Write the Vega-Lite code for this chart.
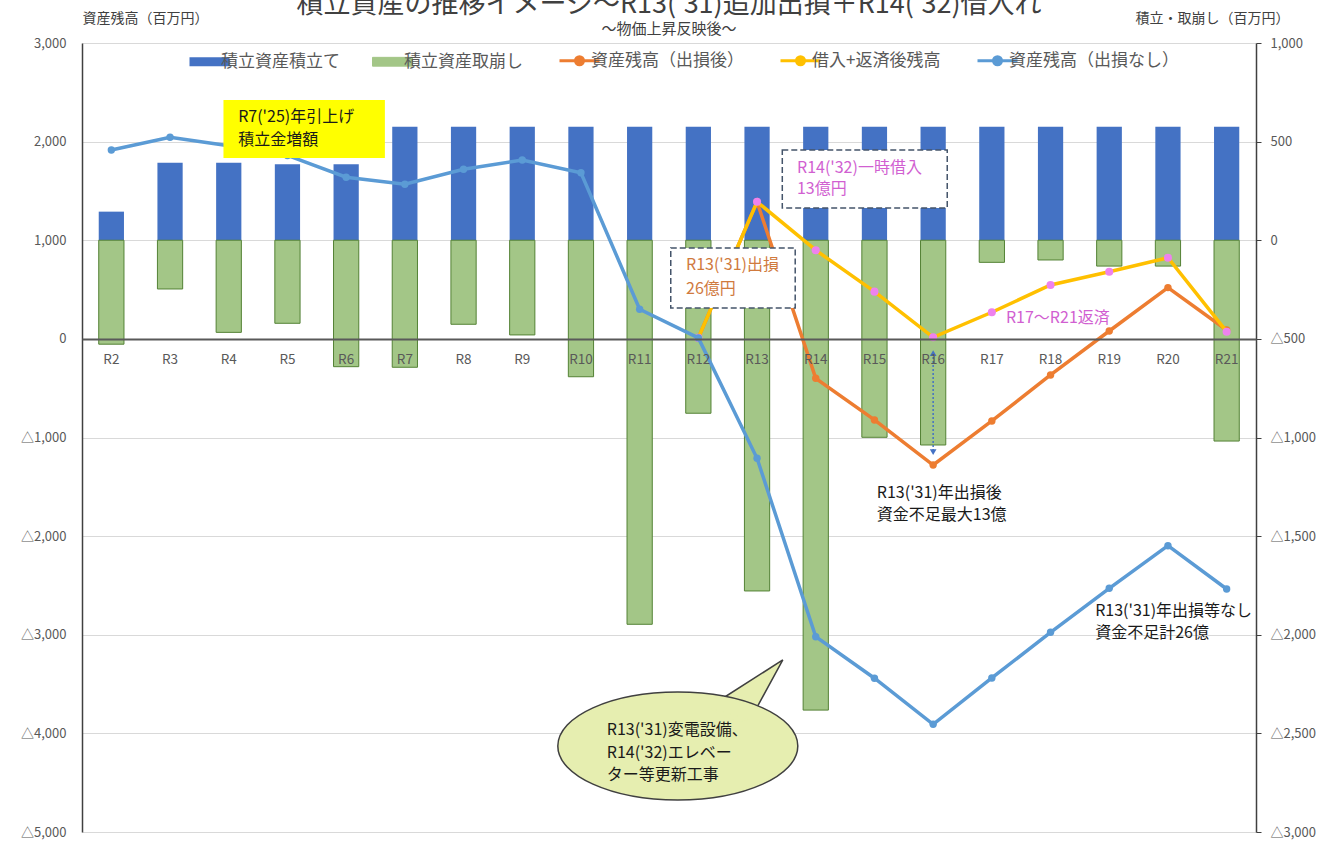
{
  "$schema": "https://vega.github.io/schema/vega-lite/v6.json",
  "width": 1174,
  "height": 789,
  "autosize": {"type": "none"},
  "padding": {"left": 82, "top": 43, "right": 79, "bottom": 9},
  "background": "white",
  "config": {
    "font": "Noto Sans CJK JP",
    "view": {"stroke": null}
  },
  "title": {
    "text": "積立資産の推移イメージ～R13('31)追加出損＋R14('32)借入れ",
    "subtitle": "～物価上昇反映後～",
    "fontSize": 27,
    "fontWeight": "normal",
    "color": "#404040",
    "subtitleFontSize": 15,
    "subtitleColor": "#404040",
    "subtitlePadding": 3,
    "anchor": "middle",
    "offset": 6,
    "dy": 33
  },
  "datasets": {
    "main": [
      {"year": "R2", "tsumi": 145, "tori": -527, "nashi": 1915, "go": null, "kari": null},
      {"year": "R3", "tsumi": 393, "tori": -247, "nashi": 2044, "go": null, "kari": null},
      {"year": "R4", "tsumi": 393, "tori": -467, "nashi": 1959, "go": null, "kari": null},
      {"year": "R5", "tsumi": 385, "tori": -421, "nashi": 1860, "go": null, "kari": null},
      {"year": "R6", "tsumi": 385, "tori": -641, "nashi": 1639, "go": null, "kari": null},
      {"year": "R7", "tsumi": 576, "tori": -644, "nashi": 1568, "go": null, "kari": null},
      {"year": "R8", "tsumi": 576, "tori": -426, "nashi": 1720, "go": null, "kari": null},
      {"year": "R9", "tsumi": 576, "tori": -480, "nashi": 1814, "go": null, "kari": null},
      {"year": "R10", "tsumi": 576, "tori": -692, "nashi": 1685, "go": null, "kari": null},
      {"year": "R11", "tsumi": 576, "tori": -1947, "nashi": 300, "go": null, "kari": null},
      {"year": "R12", "tsumi": 576, "tori": -877, "nashi": 10, "go": 10, "kari": 10},
      {"year": "R13", "tsumi": 576, "tori": -1778, "nashi": -1211, "go": 1390, "kari": 1390},
      {"year": "R14", "tsumi": 576, "tori": -2382, "nashi": -3020, "go": -400, "kari": 899},
      {"year": "R15", "tsumi": 576, "tori": -999, "nashi": -3441, "go": -822, "kari": 479},
      {"year": "R16", "tsumi": 576, "tori": -1038, "nashi": -3908, "go": -1279, "kari": 16},
      {"year": "R17", "tsumi": 576, "tori": -112, "nashi": -3438, "go": -832, "kari": 270},
      {"year": "R18", "tsumi": 576, "tori": -100, "nashi": -2975, "go": -366, "kari": 547},
      {"year": "R19", "tsumi": 576, "tori": -131, "nashi": -2529, "go": 80, "kari": 681},
      {"year": "R20", "tsumi": 576, "tori": -131, "nashi": -2097, "go": 520, "kari": 823},
      {"year": "R21", "tsumi": 576, "tori": -1018, "nashi": -2536, "go": 90, "kari": 73}
    ],
    "yellowBox": [{"x1": 2.41, "x2": 5.16, "y1": 2422, "y2": 1834}],
    "dashBoxes": [
      {"x1": 10.03, "x2": 12.15, "y1": 922, "y2": 313},
      {"x1": 11.93, "x2": 14.74, "y1": 1915, "y2": 1327}
    ],
    "bubble": [{"bx": 10.15, "by": -4128}],
    "blackText": [
      {"tx": 2.66, "ty": 2250, "text": "R7('25)年引上げ"},
      {"tx": 2.66, "ty": 2017, "text": "積立金増額"},
      {"tx": 13.54, "ty": -1562, "text": "R13('31)年出損後"},
      {"tx": 13.54, "ty": -1785, "text": "資金不足最大13億"},
      {"tx": 17.26, "ty": -2759, "text": "R13('31)年出損等なし"},
      {"tx": 17.26, "ty": -2982, "text": "資金不足計26億"},
      {"tx": 8.94, "ty": -3965, "text": "R13('31)変電設備、"},
      {"tx": 8.94, "ty": -4198, "text": "R14('32)エレベー"},
      {"tx": 8.94, "ty": -4421, "text": "ター等更新工事"}
    ],
    "orangeText": [
      {"tx": 10.29, "ty": 750, "text": "R13('31)出損"},
      {"tx": 10.29, "ty": 507, "text": "26億円"}
    ],
    "violetText": [
      {"tx": 12.18, "ty": 1736, "text": "R14('32)一時借入"},
      {"tx": 12.18, "ty": 1520, "text": "13億円"},
      {"tx": 15.74, "ty": 212, "text": "R17～R21返済"}
    ],
    "arrow": [{"ax": 14.5, "top": -144, "bottom": -1148}]
  },
  "layer": [
    {
      "data": {"name": "main"},
      "encoding": {
        "x": {
          "field": "year",
          "type": "ordinal",
          "scale": {
            "domain": ["R2","R3","R4","R5","R6","R7","R8","R9","R10","R11","R12","R13","R14","R15","R16","R17","R18","R19","R20","R21"],
            "paddingInner": 0.57,
            "paddingOuter": 0.285
          },
          "axis": {
            "orient": "bottom",
            "offset": -493,
            "title": null,
            "ticks": false,
            "grid": false,
            "domainColor": "#595959",
            "domainWidth": 2,
            "labelColor": "#595959",
            "labelFontSize": 13.5,
            "labelPadding": 13,
            "labelAngle": 0,
            "zindex": 1
          }
        }
      },
      "layer": [
        {
          "mark": {"type": "bar"},
          "encoding": {
            "y": {
              "field": "tsumi",
              "type": "quantitative",
              "scale": {"domain": [-3000, 1000], "nice": false},
              "axis": {
                "orient": "right",
                "values": [-3000, -2500, -2000, -1500, -1000, -500, 0, 500, 1000],
                "labelExpr": "datum.value < 0 ? '△' + format(-datum.value, ',') : format(datum.value, ',')",
                "grid": false,
                "domain": true,
                "domainColor": "#404040",
                "domainWidth": 1.5,
                "ticks": true,
                "tickColor": "#404040",
                "tickSize": 5,
                "labelColor": "#595959",
                "labelFontSize": 13,
                "labelPadding": 9,
                "title": "積立・取崩し（百万円）",
                "titleAngle": 0,
                "titleX": -44,
                "titleY": -25,
                "titleAlign": "center",
                "titleBaseline": "middle",
                "titleFontSize": 14,
                "titleFontWeight": "normal",
                "titleColor": "#404040"
              }
            },
            "color": {
              "datum": "積立資産積立て",
              "type": "nominal",
              "scale": {
                "domain": ["積立資産積立て", "積立資産取崩し", "資産残高（出損後）", "借入+返済後残高", "資産残高（出損なし）"],
                "range": ["#4472c4", "#a3c687", "#ed7d31", "#ffc000", "#5b9bd5"]
              },
              "legend": {
                "orient": "none",
                "legendX": 119,
                "legendY": 9,
                "direction": "horizontal",
                "title": null,
                "padding": 0,
                "symbolSize": 1600,
                "symbolType": "M-1,-0.22L1,-0.22L1,0.22L-1,0.22Z",
                "labelFontSize": 17,
                "labelLimit": 400,
                "labelColor": "#595959",
                "labelOffset": 3,
                "columnPadding": 30,
                "encode": {
                  "symbols": {
                    "update": {
                      "shape": {"signal": "indexof(['積立資産積立て','積立資産取崩し'], datum.value) >= 0 ? 'M-1,-0.22L1,-0.22L1,0.22L-1,0.22Z' : 'M-1,0L1,0M0.2,0C0.2,0.1105,0.1105,0.2,0,0.2C-0.1105,0.2,-0.2,0.1105,-0.2,0C-0.2,-0.1105,-0.1105,-0.2,0,-0.2C0.1105,-0.2,0.2,-0.1105,0.2,0Z'"},
                      "fill": {"signal": "datum.value == '借入+返済後残高' ? '#ee82ee' : scale('color', datum.value)"},
                      "stroke": {"signal": "datum.value == '積立資産取崩し' ? '#548235' : scale('color', datum.value)"},
                      "strokeWidth": {"signal": "datum.value == '積立資産積立て' ? 0 : datum.value == '積立資産取崩し' ? 1 : 3"},
                      "opacity": {"value": 1},
                      "fillOpacity": {"value": 1},
                      "strokeOpacity": {"value": 1}
                    }
                  }
                }
              }
            }
          }
        },
        {
          "mark": {"type": "bar", "stroke": "#548235", "strokeWidth": 1},
          "encoding": {
            "y": {"field": "tori", "type": "quantitative"},
            "color": {"datum": "積立資産取崩し", "type": "nominal"}
          }
        }
      ]
    },
    {
      "data": {"name": "main"},
      "encoding": {
        "x": {
          "field": "year",
          "type": "ordinal",
          "scale": {
            "type": "point",
            "padding": 0.5,
            "domain": ["R2","R3","R4","R5","R6","R7","R8","R9","R10","R11","R12","R13","R14","R15","R16","R17","R18","R19","R20","R21"]
          },
          "axis": null
        }
      },
      "layer": [
        {
          "mark": {"type": "line", "strokeWidth": 3.5},
          "encoding": {
            "y": {
              "field": "go",
              "type": "quantitative",
              "scale": {"domain": [-5000, 3000], "nice": false},
              "axis": {
                "orient": "left",
                "values": [-5000, -4000, -3000, -2000, -1000, 0, 1000, 2000, 3000],
                "labelExpr": "datum.value < 0 ? '△' + format(-datum.value, ',') : format(datum.value, ',')",
                "grid": true,
                "gridColor": "#d9d9d9",
                "gridWidth": 1,
                "domain": true,
                "domainColor": "#404040",
                "domainWidth": 1.5,
                "ticks": false,
                "labelColor": "#595959",
                "labelFontSize": 13,
                "labelPadding": 16,
                "title": "資産残高（百万円）",
                "titleAngle": 0,
                "titleX": 63,
                "titleY": -25,
                "titleAlign": "center",
                "titleBaseline": "middle",
                "titleFontSize": 14,
                "titleFontWeight": "normal",
                "titleColor": "#404040"
              }
            },
            "color": {"datum": "資産残高（出損後）", "type": "nominal"}
          }
        },
        {
          "mark": {"type": "point", "filled": true, "size": 55, "color": "#ed7d31", "opacity": 1},
          "encoding": {"y": {"field": "go", "type": "quantitative"}}
        },
        {
          "mark": {"type": "line", "strokeWidth": 3.5},
          "encoding": {
            "y": {"field": "kari", "type": "quantitative"},
            "color": {"datum": "借入+返済後残高", "type": "nominal"}
          }
        },
        {
          "mark": {"type": "point", "filled": true, "size": 65, "color": "#ee82ee", "opacity": 1},
          "encoding": {"y": {"field": "kari", "type": "quantitative"}}
        },
        {
          "mark": {"type": "line", "strokeWidth": 3.5},
          "encoding": {
            "y": {"field": "nashi", "type": "quantitative"},
            "color": {"datum": "資産残高（出損なし）", "type": "nominal"}
          }
        },
        {
          "mark": {"type": "point", "filled": true, "size": 55, "color": "#5b9bd5", "opacity": 1},
          "encoding": {"y": {"field": "nashi", "type": "quantitative"}}
        }
      ]
    },
    {
      "layer": [
        {
          "data": {"name": "yellowBox"},
          "mark": {"type": "rect", "fill": "#ffff00"},
          "encoding": {
            "x": {"field": "x1", "type": "quantitative", "scale": {"domain": [0, 20], "nice": false, "zero": false}, "axis": null},
            "x2": {"field": "x2"},
            "y": {"field": "y1", "type": "quantitative", "scale": {"domain": [-5000, 3000], "nice": false, "zero": false}, "axis": null},
            "y2": {"field": "y2"}
          }
        },
        {
          "data": {"name": "dashBoxes"},
          "mark": {"type": "rect", "fill": "#ffffff", "stroke": "#44546a", "strokeWidth": 1.5, "strokeDash": [6, 3]},
          "encoding": {
            "x": {"field": "x1", "type": "quantitative"},
            "x2": {"field": "x2"},
            "y": {"field": "y1", "type": "quantitative"},
            "y2": {"field": "y2"}
          }
        },
        {
          "data": {"name": "bubble"},
          "mark": {
            "type": "point",
            "shape": "M0.30,-0.35L0.875,-0.717L0.62,-0.25Z",
            "size": 57600,
            "filled": true,
            "fill": "#e6eeb0",
            "stroke": "#404040",
            "strokeWidth": 1.5,
            "opacity": 1
          },
          "encoding": {
            "x": {"field": "bx", "type": "quantitative"},
            "y": {"field": "by", "type": "quantitative"}
          }
        },
        {
          "data": {"name": "bubble"},
          "mark": {
            "type": "point",
            "shape": "M1,0C1,0.2485,0.5523,0.45,0,0.45C-0.5523,0.45,-1,0.2485,-1,0C-1,-0.2485,-0.5523,-0.45,0,-0.45C0.5523,-0.45,1,-0.2485,1,0Z",
            "size": 57600,
            "filled": true,
            "fill": "#e6eeb0",
            "stroke": "#404040",
            "strokeWidth": 1.5,
            "opacity": 1
          },
          "encoding": {
            "x": {"field": "bx", "type": "quantitative"},
            "y": {"field": "by", "type": "quantitative"}
          }
        },
        {
          "data": {"name": "bubble"},
          "mark": {
            "type": "point",
            "shape": "M0.22,-0.33L0.6,-0.22L0.5,-0.2Z",
            "size": 57600,
            "filled": true,
            "fill": "#e6eeb0",
            "strokeWidth": 0,
            "opacity": 1
          },
          "encoding": {
            "x": {"field": "bx", "type": "quantitative"},
            "y": {"field": "by", "type": "quantitative"}
          }
        },
        {
          "data": {"name": "arrow"},
          "mark": {"type": "rule", "color": "#4472c4", "strokeWidth": 1.5, "strokeDash": [2, 2]},
          "encoding": {
            "x": {"field": "ax", "type": "quantitative"},
            "y": {"field": "top", "type": "quantitative"},
            "y2": {"field": "bottom"}
          }
        },
        {
          "data": {"name": "arrow"},
          "mark": {"type": "point", "shape": "triangle-up", "size": 45, "filled": true, "color": "#4472c4", "opacity": 1},
          "encoding": {
            "x": {"field": "ax", "type": "quantitative"},
            "y": {"field": "top", "type": "quantitative"}
          }
        },
        {
          "data": {"name": "arrow"},
          "mark": {"type": "point", "shape": "triangle-down", "size": 45, "filled": true, "color": "#4472c4", "opacity": 1},
          "encoding": {
            "x": {"field": "ax", "type": "quantitative"},
            "y": {"field": "bottom", "type": "quantitative"}
          }
        },
        {
          "data": {"name": "blackText"},
          "mark": {"type": "text", "align": "left", "baseline": "middle", "fontSize": 16, "color": "#1a1a1a"},
          "encoding": {
            "x": {"field": "tx", "type": "quantitative"},
            "y": {"field": "ty", "type": "quantitative"},
            "text": {"field": "text"}
          }
        },
        {
          "data": {"name": "orangeText"},
          "mark": {"type": "text", "align": "left", "baseline": "middle", "fontSize": 16, "color": "#d07a3e"},
          "encoding": {
            "x": {"field": "tx", "type": "quantitative"},
            "y": {"field": "ty", "type": "quantitative"},
            "text": {"field": "text"}
          }
        },
        {
          "data": {"name": "violetText"},
          "mark": {"type": "text", "align": "left", "baseline": "middle", "fontSize": 16, "color": "#d15fd1"},
          "encoding": {
            "x": {"field": "tx", "type": "quantitative"},
            "y": {"field": "ty", "type": "quantitative"},
            "text": {"field": "text"}
          }
        }
      ]
    }
  ],
  "resolve": {"scale": {"x": "independent", "y": "independent"}}
}
